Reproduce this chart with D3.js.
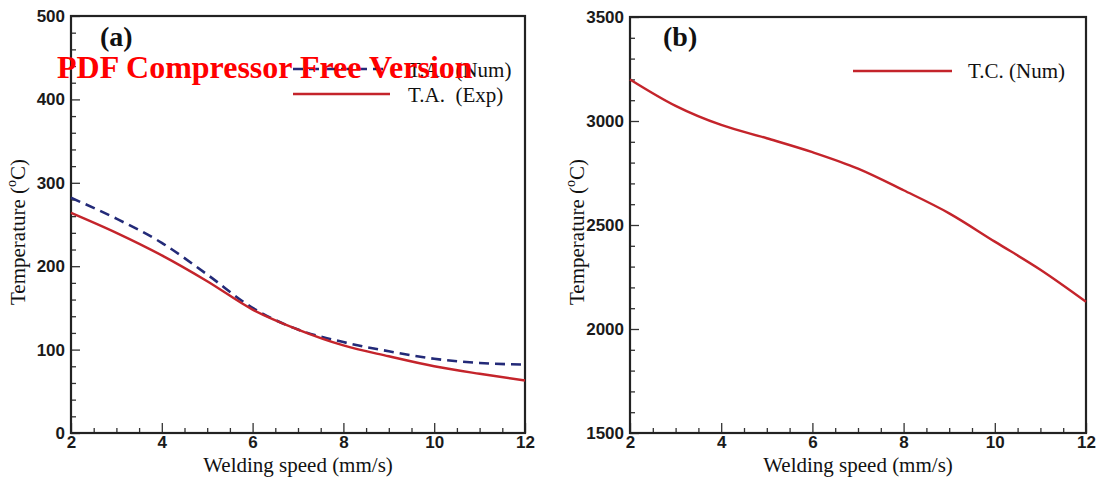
<!DOCTYPE html>
<html>
<head>
<meta charset="utf-8">
<script src="https://cdn.jsdelivr.net/npm/d3@7"></script>
<style>
  html, body { margin: 0; padding: 0; background: #fff; }
  svg { display: block; }
  .tick text { font-family: "Liberation Sans", Arial, sans-serif; font-weight: bold; font-size: 17px; fill: #1a1a1a; }
  .tick line { stroke: #333; stroke-width: 1.3; }
  .serif { font-family: "Liberation Serif", "Times New Roman", serif; fill: #111; }
</style>
</head>
<body>
<script>
// Welding speed (mm/s)
const speed = [2, 3, 4, 5, 6, 7, 8, 9, 10, 11, 12];
// (a) temperature at point A, numerical and experimental (°C)
const taNum = [282, 257, 228, 190, 150, 124, 109, 98, 89, 84, 82];
const taExp = [264, 240, 213, 182, 148, 124, 105, 92, 80, 71, 63];
// (b) temperature at point C, numerical (°C)
const tcNum = [3200, 3073, 2981, 2917, 2850, 2771, 2667, 2556, 2420, 2285, 2131];

const xMajor = [2, 4, 6, 8, 10, 12];
const yMajorA = [0, 100, 200, 300, 400, 500];
const yMajorB = [1500, 2000, 2500, 3000, 3500];

const W = 1098, H = 478;
const RED = "#c4242b", NAVY = "#232a78";

const svg = d3.select("body").append("svg").attr("width", W).attr("height", H);

function panel(opts) {
  const { left, right, top, bottom, yDomain, yMajor, yMinorStep, tag, tagX } = opts;
  const g = svg.append("g");
  const x = d3.scaleLinear().domain([2, 12]).range([left, right]);
  const y = d3.scaleLinear().domain(yDomain).range([bottom, top]);

  // minor ticks (inward)
  const xMinor = d3.range(2, 12.001, 0.5).filter(v => !xMajor.includes(v));
  const yMinor = d3.range(yDomain[0], yDomain[1] + 0.001, yMinorStep).filter(v => !yMajor.includes(v));
  g.append("g").attr("transform", `translate(0,${bottom})`)
    .call(d3.axisBottom(x).tickValues(xMinor).tickSize(-5).tickFormat(""))
    .call(a => a.select(".domain").remove());
  g.append("g").attr("transform", `translate(${left},0)`)
    .call(d3.axisLeft(y).tickValues(yMinor).tickSize(-5).tickFormat(""))
    .call(a => a.select(".domain").remove());

  // major ticks with labels
  g.append("g").attr("transform", `translate(0,${bottom})`)
    .call(d3.axisBottom(x).tickValues(xMajor).tickSize(-10).tickPadding(3).tickFormat(d3.format("d")))
    .call(a => a.select(".domain").remove());
  g.append("g").attr("transform", `translate(${left},0)`)
    .call(d3.axisLeft(y).tickValues(yMajor).tickSize(-9).tickPadding(6).tickFormat(d3.format("d")))
    .call(a => a.select(".domain").remove());

  // frame
  g.append("rect").attr("x", left).attr("y", top)
    .attr("width", right - left).attr("height", bottom - top)
    .attr("fill", "none").attr("stroke", "#222").attr("stroke-width", 2.2);

  // axis titles
  g.append("text").attr("class", "serif")
    .attr("x", (left + right) / 2).attr("y", 472)
    .attr("text-anchor", "middle").attr("font-size", 21)
    .text("Welding speed (mm/s)");
  const yt = g.append("text").attr("class", "serif")
    .attr("transform", `translate(${left - 46},232) rotate(-90)`)
    .attr("text-anchor", "middle").attr("font-size", 21);
  yt.append("tspan").text("Temperature (");
  yt.append("tspan").attr("font-size", 14).attr("dy", -9).text("o");
  yt.append("tspan").attr("dy", 9).text("C)");

  // panel tag
  g.append("text").attr("class", "serif")
    .attr("x", tagX).attr("y", 46).attr("font-size", 28).attr("font-weight", "bold")
    .text(tag);

  return { g, x, y };
}

const line = (x, y) => d3.line().x((d, i) => x(speed[i])).y(d => y(d)).curve(d3.curveMonotoneX);

// ---- panel (a)
const A = panel({ left: 71, right: 525, top: 16, bottom: 433, yDomain: [0, 500],
  yMajor: yMajorA, yMinorStep: 20, tag: "(a)", tagX: 100 });
A.g.append("path").datum(taNum).attr("d", line(A.x, A.y))
  .attr("fill", "none").attr("stroke", NAVY).attr("stroke-width", 2.6).attr("stroke-dasharray", "10,6");
A.g.append("path").datum(taExp).attr("d", line(A.x, A.y))
  .attr("fill", "none").attr("stroke", RED).attr("stroke-width", 2.4);

// legend (a)
A.g.append("line").attr("x1", 293).attr("x2", 388).attr("y1", 69).attr("y2", 69)
  .attr("stroke", NAVY).attr("stroke-width", 2.6).attr("stroke-dasharray", "10,6");
A.g.append("text").attr("class", "serif").attr("x", 408).attr("y", 77).attr("font-size", 21)
  .attr("xml:space", "preserve").text("T.A.  (Num)");
A.g.append("line").attr("x1", 293).attr("x2", 390).attr("y1", 94).attr("y2", 94)
  .attr("stroke", RED).attr("stroke-width", 2.4);
A.g.append("text").attr("class", "serif").attr("x", 408).attr("y", 102).attr("font-size", 21)
  .attr("xml:space", "preserve").text("T.A.  (Exp)");

// ---- panel (b)
const B = panel({ left: 630, right: 1086, top: 17, bottom: 433, yDomain: [1500, 3500],
  yMajor: yMajorB, yMinorStep: 100, tag: "(b)", tagX: 663 });
B.g.append("path").datum(tcNum).attr("d", line(B.x, B.y))
  .attr("fill", "none").attr("stroke", RED).attr("stroke-width", 2.4);
B.g.append("line").attr("x1", 853).attr("x2", 952).attr("y1", 71).attr("y2", 71)
  .attr("stroke", RED).attr("stroke-width", 2.4);
B.g.append("text").attr("class", "serif").attr("x", 968).attr("y", 78).attr("font-size", 21)
  .text("T.C. (Num)");

// watermark stamped over panel (a)
svg.append("text")
  .attr("x", 57).attr("y", 78)
  .attr("font-family", "'Liberation Serif', 'Times New Roman', serif")
  .attr("font-weight", "bold").attr("font-size", 32).attr("fill", "#ff0000")
  .text("PDF Compressor Free Version");
</script>
</body>
</html>
